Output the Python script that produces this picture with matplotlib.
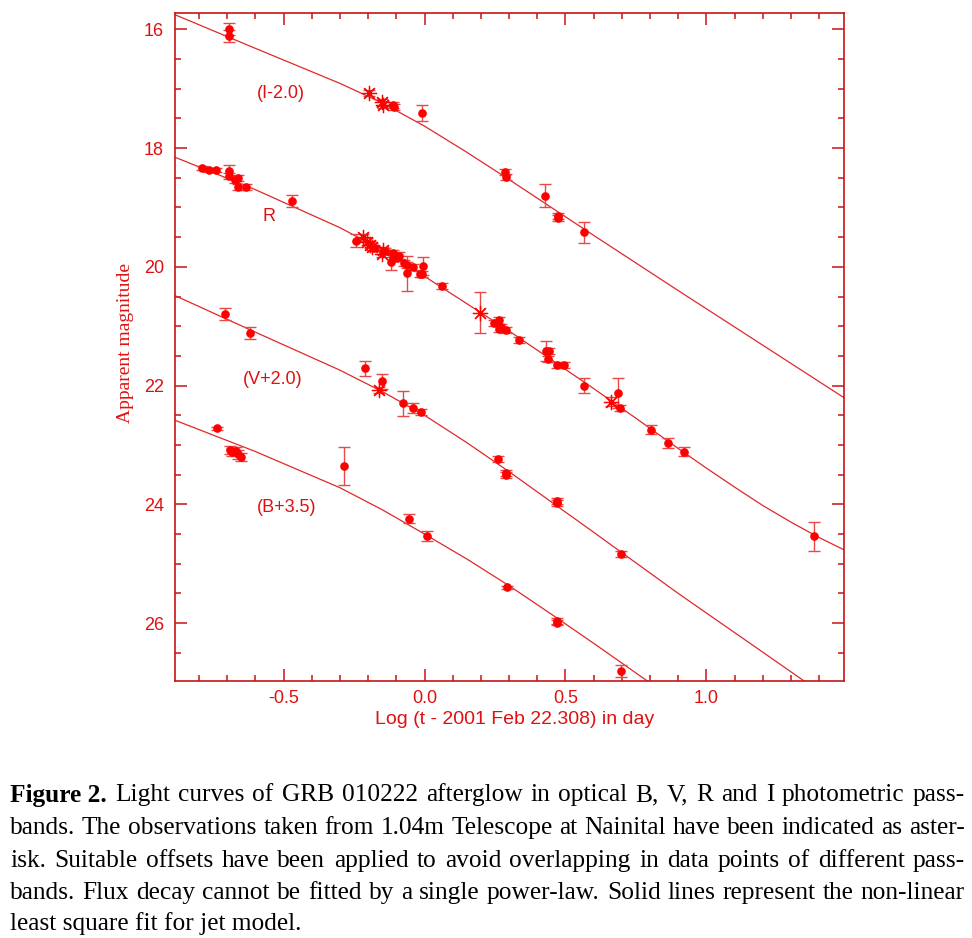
import matplotlib
matplotlib.use("Agg")
import matplotlib.pyplot as plt
from matplotlib.ticker import MultipleLocator

# ---------------- data ----------------
# I band (plotted as I-2.0): filled dots and asterisks (1.04m Nainital)
I_x = [-0.693, -0.692, -0.113, -0.107, -0.010, 0.285, 0.289, 0.427, 0.472, 0.473, 0.565]
I_y = [16.00, 16.11, 17.27, 17.31, 17.41, 18.41, 18.48, 18.80, 19.14, 19.17, 19.42]
I_e = [0.10, 0.10, 0.05, 0.05, 0.13, 0.05, 0.05, 0.20, 0.05, 0.05, 0.18]
Ia_x = [-0.196, -0.151, -0.146]
Ia_y = [17.08, 17.23, 17.27]
Ia_e = [0.05, 0.06, 0.06]

# R band
R_x = [-0.788, -0.764, -0.740, -0.694, -0.694, -0.671, -0.661, -0.660, -0.632, -0.471,
       -0.243, -0.179, -0.140, -0.113, -0.113, -0.120, -0.089, -0.099, -0.072, -0.063,
       -0.063, -0.040, -0.016, -0.008, -0.006, 0.061, 0.246, 0.263, 0.263, 0.272,
       0.289, 0.334, 0.431, 0.440, 0.438, 0.469, 0.495, 0.567, 0.685, 0.694,
       0.802, 0.863, 0.920, 1.383]
R_y = [18.34, 18.37, 18.37, 18.39, 18.47, 18.53, 18.50, 18.66, 18.66, 18.89,
       19.56, 19.68, 19.74, 19.77, 19.83, 19.92, 19.81, 19.85, 19.94, 19.97,
       20.11, 20.01, 20.12, 20.12, 19.99, 20.33, 20.94, 20.90, 21.04, 21.01,
       21.06, 21.24, 21.42, 21.42, 21.55, 21.66, 21.66, 22.00, 22.12, 22.38,
       22.74, 22.97, 23.11, 24.54]
R_e = [0.03, 0.03, 0.03, 0.10, 0.05, 0.05, 0.05, 0.05, 0.05, 0.10,
       0.11, 0.05, 0.05, 0.06, 0.06, 0.13, 0.06, 0.06, 0.05, 0.05,
       0.30, 0.05, 0.05, 0.05, 0.15, 0.05, 0.05, 0.06, 0.05, 0.05,
       0.05, 0.05, 0.17, 0.05, 0.05, 0.05, 0.05, 0.12, 0.25, 0.05,
       0.08, 0.08, 0.08, 0.25]
Ra_x = [-0.219, -0.205, -0.193, -0.187, -0.146, -0.152, 0.197, 0.661]
Ra_y = [19.50, 19.58, 19.63, 19.66, 19.72, 19.78, 20.77, 22.27]
Ra_e = [0.06, 0.06, 0.06, 0.06, 0.06, 0.06, 0.35, 0.07]

# V band (plotted as V+2.0)
V_x = [-0.706, -0.618, -0.210, -0.150, -0.075, -0.042, -0.013, 0.260, 0.289, 0.289, 0.471, 0.471, 0.696]
V_y = [20.80, 21.11, 21.71, 21.93, 22.30, 22.38, 22.45, 23.24, 23.47, 23.50, 23.95, 23.98, 24.83]
V_e = [0.10, 0.10, 0.13, 0.13, 0.21, 0.08, 0.05, 0.05, 0.05, 0.05, 0.05, 0.05, 0.05]
Va_x = [-0.160]
Va_y = [22.07]
Va_e = [0.05]

# B band (plotted as B+3.5)
B_x = [-0.735, -0.690, -0.684, -0.670, -0.660, -0.652, -0.285, -0.055, 0.008, 0.291, 0.471, 0.471, 0.696]
B_y = [22.72, 23.09, 23.12, 23.10, 23.16, 23.20, 23.36, 24.24, 24.53, 25.40, 25.97, 25.99, 26.81]
B_e = [0.02, 0.07, 0.07, 0.07, 0.07, 0.07, 0.32, 0.07, 0.08, 0.03, 0.05, 0.05, 0.10]

# jet-model fit curves
fitI_x = [-0.887, -0.6, -0.3, -0.15, 0.0, 0.15, 0.3, 0.6, 0.9, 1.2, 1.49]
fitI_y = [15.75, 16.32, 16.91, 17.24, 17.63, 18.07, 18.53, 19.47, 20.40, 21.32, 22.21]
fitR_x = [-0.887, -0.6, -0.3, -0.15, 0.0, 0.15, 0.3, 0.6, 0.75, 0.9, 1.0, 1.1, 1.2, 1.3, 1.4, 1.49]
fitR_y = [18.15, 18.70, 19.34, 19.72, 20.16, 20.62, 21.08, 22.05, 22.55, 23.06, 23.39, 23.71,
          24.02, 24.30, 24.56, 24.77]
fitV_x = [-0.887, -0.6, -0.3, -0.15, 0.0, 0.15, 0.3, 0.6, 0.9, 1.2, 1.49]
fitV_y = [20.48, 21.10, 21.74, 22.10, 22.50, 22.96, 23.45, 24.47, 25.50, 26.49, 27.45]
fitB_x = [-0.887, -0.6, -0.3, -0.15, 0.0, 0.15, 0.3, 0.45, 0.6, 0.9, 1.0]
fitB_y = [22.58, 23.11, 23.72, 24.09, 24.50, 24.92, 25.37, 25.85, 26.34, 27.34, 27.67]

band_labels = ["(I-2.0)", "R", "(V+2.0)", "(B+3.5)"]
band_label_pos = [(-0.509, 17.08), (-0.551, 19.16), (-0.538, 21.89), (-0.488, 24.06)]

x_label = "Log (t - 2001 Feb 22.308) in day"
y_label = "Apparent magnitude"
x_ticks = [-0.5, 0.0, 0.5, 1.0]
y_ticks = [16, 18, 20, 22, 24, 26]

caption_lines = [
    [("Figure 2.", "bold"), ("Light curves of GRB 010222 afterglow in optical B, V, R and I photometric pass-", "normal")],
    [("bands. The observations taken from 1.04m Telescope at Nainital have been indicated as aster-", "normal")],
    [("isk.  Suitable offsets have been applied to avoid overlapping in data points of different pass-", "normal")],
    [("bands. Flux decay cannot be fitted by a single power-law. Solid lines represent the non-linear", "normal")],
]
caption_last = "least square fit for jet model."

# ---------------- styling ----------------
W, H = 972, 938
RED = "#ff0000"
AXC = "#c81414"
TXT = "#e01010"
ERRC = "#e84848"
LINEC = "#e02828"

fig = plt.figure(figsize=(W / 100, H / 100), dpi=100)
ax = fig.add_axes([175 / W, 1 - 680.7 / H, (844 - 175) / W, (680.7 - 13.3) / H])

for fx, fy in [(fitI_x, fitI_y), (fitR_x, fitR_y), (fitV_x, fitV_y), (fitB_x, fitB_y)]:
    ax.plot(fx, fy, color=LINEC, lw=0.9, zorder=2, solid_joinstyle="round")

ebkw = dict(ecolor=ERRC, elinewidth=1.0, capsize=4.5, capthick=1.0, linestyle="none", zorder=3)
for xs, ys, es in [(I_x, I_y, I_e), (R_x, R_y, R_e), (V_x, V_y, V_e), (B_x, B_y, B_e)]:
    ax.errorbar(xs, ys, yerr=es, fmt="o", color=RED, markersize=5.2, mec=RED, **ebkw)
for xs, ys, es in [(Ia_x, Ia_y, Ia_e), (Ra_x, Ra_y, Ra_e), (Va_x, Va_y, Va_e)]:
    ax.errorbar(xs, ys, yerr=es, fmt="none", **ebkw)
    ax.plot(xs, ys, linestyle="none", marker=(8, 2, 0), markersize=11, mew=0.9,
            color=RED, zorder=4)

for lab, (lx, ly) in zip(band_labels, band_label_pos):
    ax.text(lx, ly, lab, color=TXT, fontsize=13, family="Liberation Sans",
            ha="center", va="center")

ax.set_xlim(-0.885, 1.488)
ax.set_ylim(26.97, 15.73)
ax.set_xticks(x_ticks)
ax.set_xticklabels(["-0.5", "0.0", "0.5", "1.0"])
ax.set_yticks(y_ticks)
ax.xaxis.set_minor_locator(MultipleLocator(0.1))
ax.yaxis.set_minor_locator(MultipleLocator(0.5))
ax.tick_params(which="both", direction="in", top=True, right=True, color=AXC,
               width=1.1, labelcolor=TXT, labelsize=13)
ax.tick_params(which="major", length=8.5)
ax.tick_params(which="minor", length=4.2)
ax.tick_params(axis="x", which="major", pad=7)
ax.tick_params(axis="y", which="major", pad=8)
for lbl in ax.get_xticklabels() + ax.get_yticklabels():
    lbl.set_family("Liberation Sans")
for sp in ax.spines.values():
    sp.set_color(AXC)
    sp.set_linewidth(1.2)

fig.text(515 / W, 1 - 719 / H, x_label, color=TXT, fontsize=14,
         family="Liberation Sans", ha="center", va="center")
fig.text(125 / W, 1 - 343 / H, y_label, color=TXT, fontsize=14,
         family="Liberation Serif", rotation=90, ha="center", va="center")

# ---------------- caption (justified) ----------------
fig.canvas.draw()
rend = fig.canvas.get_renderer()
CFAM = "Liberation Serif"
left_px, right_px = 10, 965
line_y = [795, 828, 861, 893]


def measure(s, weight, fs):
    t = fig.text(0, 0, s, fontsize=fs, family=CFAM, weight=weight)
    w = t.get_window_extent(rend).width
    t.remove()
    return w


def split_words(segs):
    words = []
    for s, wgt in segs:
        if wgt == "bold":
            words.append((s, wgt))
        else:
            words.extend((w, wgt) for w in s.split())
    return words


# pick a size so the widest line fills the column with near-normal spacing
base = 16.0
space_w = measure("a a", "normal", base) - measure("aa", "normal", base)
nat = []
for segs in caption_lines:
    words = split_words(segs)
    nat.append(sum(measure(w, g, base) for w, g in words) + space_w * (len(words) - 1))
CFS = base * (right_px - left_px - 4) / max(nat)

for segs, yy in zip(caption_lines, line_y):
    words = split_words(segs)
    widths = [measure(w, g, CFS) for w, g in words]
    gap = (right_px - left_px - sum(widths)) / (len(words) - 1)
    x = left_px
    for (w, g), wd in zip(words, widths):
        fig.text(x / W, 1 - yy / H, w, fontsize=CFS, family=CFAM, weight=g,
                 color="black", ha="left", va="center")
        x += wd + gap

fig.text(left_px / W, 1 - 924 / H, caption_last, fontsize=CFS, family=CFAM,
         color="black", ha="left", va="center")

fig.savefig("out.png", dpi=100)
